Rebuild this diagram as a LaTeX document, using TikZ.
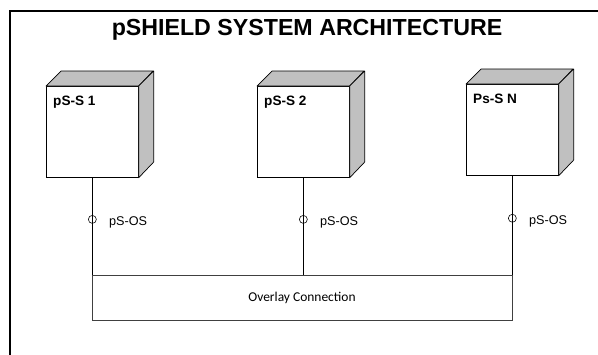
\documentclass[tikz,border=0pt]{standalone}
\usepackage{fontspec}
\setmainfont{Liberation Sans}
\newfontfamily\carlito{Carlito}
\usetikzlibrary{positioning,calc}
\definecolor{sidegray}{RGB}{192,192,192}

\begin{document}
\begin{tikzpicture}[x = 0.03cm, y = -0.03cm,
  box/.style = {draw, line width = .6pt, fill = white, minimum width = 2.76cm,
    minimum height = 2.73cm, inner sep = 0pt, anchor = north west},
  face/.style = {draw, line width = .6pt, fill = sidegray, line join = round},
  port/.style = {draw, circle, line width = .5pt, minimum size = 0.24cm, inner sep = 0pt},
  bus/.style = {draw = black!75, line width = .6pt, minimum width = 12.6cm,
    minimum height = 1.35cm, font = \carlito\fontsize{11.5}{13}\selectfont}]
\useasboundingbox (0,0) rectangle (598,354);
\clip (0,0) rectangle (598,354);

% frame
\draw[line width = 1.7pt] (10,11) rectangle (640,400);

% title
\node[font = \bfseries\fontsize{19.8}{22}\selectfont] (title) at (307,30) {pSHIELD SYSTEM ARCHITECTURE};

% overlay connection
\node[bus] (bus) at (302,297.5) {Overlay Connection};

% nodes with their ports
\foreach \n/\x/\y/\txt in {s1/46/86/pS-S 1, s2/257/86/pS-S 2, sN/466/84/Ps-S N}{
  \node[box] (\n) at (\x,\y) {};
  \draw[face] (\n.north west) -- ++(15,-15) -- ++(92,0) -- (\n.north east) -- cycle;
  \draw[face] (\n.north east) -- ++(15,-15) -- ++(0,91) -- (\n.south east) -- cycle;
  \node[anchor = north west, inner sep = 0pt, font = \bfseries\fontsize{11.6}{13}\selectfont]
    (\n-lbl) at ([shift = {(7,10)}]\n.north west) {\txt};

  % link down to the overlay
  \coordinate (\n-bus) at (\n.south |- bus.north);
  \draw[line width = .6pt] (\n.south) -- (\n-bus);
  \node[port] (\n-port) at ($(\n.south)!0.43!(\n-bus)$) {};
  \node[anchor = west, font = \fontsize{10.8}{12}\selectfont, yshift = -0.08cm]
    (\n-os) at ([xshift = 0.25cm]\n-port.east) {pS-OS};
}

\end{tikzpicture}
\end{document}
